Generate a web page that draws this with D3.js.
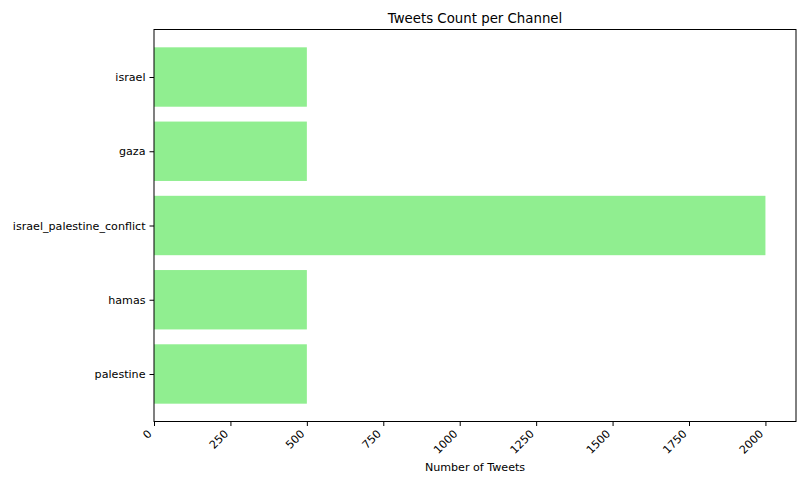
<!DOCTYPE html>
<html><head><meta charset="utf-8">
<script src="https://cdn.jsdelivr.net/npm/d3@7"></script>
<style>body{margin:0;background:#fff}svg{display:block}text{font-family:"DejaVu Sans",sans-serif;fill:#000}</style>
</head><body><svg id="c" width="804" height="477"></svg>
<script>
const categories = ["israel","gaza","israel_palestine_conflict","hamas","palestine"];
const tweetCounts = [500,500,2000,500,500];
const xTicks = [0,250,500,750,1000,1250,1500,1750,2000];

const svg = d3.select("#c");
const L=154, R=796, T=29.5, B=421.5;
const x = d3.scaleLinear().domain([0,2100]).range([L,R]);
const y = d3.scaleLinear().domain([4.64,-0.64]).range([T,B]);
const pos = i => categories.length-1-i;
const FS = 11.11;

svg.selectAll("rect.bar").data(categories).enter().append("rect")
  .attr("x",x(0)).attr("y",(d,i)=>y(pos(i)+0.4))
  .attr("width",(d,i)=>x(tweetCounts[i])-x(0))
  .attr("height",(d,i)=>y(pos(i)-0.4)-y(pos(i)+0.4))
  .attr("fill","#90ee90");

const xa = svg.append("g").attr("transform",`translate(0,${B})`)
  .call(d3.axisBottom(x).tickValues(xTicks).tickSize(4.5).tickPadding(3).tickFormat(d3.format("d")));
xa.select(".domain").remove();
xa.selectAll("line").attr("stroke","#000").attr("stroke-width",1);
xa.selectAll("text").attr("font-size",FS).attr("text-anchor","end")
  .attr("dy",null).attr("y",null)
  .attr("transform","translate(-2,13) rotate(-45)");

const ya = svg.append("g").attr("transform",`translate(${L},0)`)
  .call(d3.axisLeft(y).tickValues(categories.map((d,i)=>pos(i))).tickSize(4.5).tickPadding(4)
    .tickFormat(v=>categories[categories.length-1-v]));
ya.select(".domain").remove();
ya.selectAll("line").attr("stroke","#000");
ya.selectAll("text").attr("font-size",FS);

svg.append("rect").attr("x",L).attr("y",T).attr("width",R-L).attr("height",B-T)
  .attr("fill","none").attr("stroke","#000").attr("stroke-width",1);

svg.append("text").attr("x",(L+R)/2).attr("y",T-7).attr("text-anchor","middle")
  .attr("font-size",13.33).text("Tweets Count per Channel");
svg.append("text").attr("x",(L+R)/2).attr("y",471).attr("text-anchor","middle")
  .attr("font-size",FS).text("Number of Tweets");
</script></body></html>
